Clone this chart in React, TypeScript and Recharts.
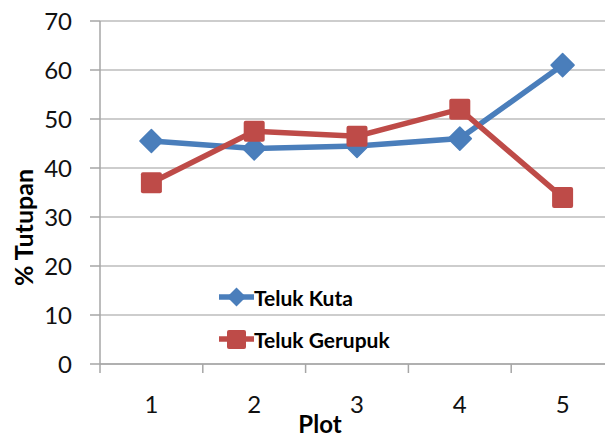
import React from 'react';
import { LineChart, Line, XAxis, YAxis, CartesianGrid, Legend } from 'recharts';

const plots = [1, 2, 3, 4, 5];
const telukKuta = [45.5, 44, 44.5, 46, 61];
const telukGerupuk = [37, 47.5, 46.5, 52, 34];
const yTicks = [0, 10, 20, 30, 40, 50, 60, 70];
const xTicks = [0.5, 1, 1.5, 2, 2.5, 3, 3.5, 4, 4.5, 5, 5.5];
const seriesNames = ['Teluk Kuta', 'Teluk Gerupuk'];

const BLUE = '#4A7EBB';
const RED = '#BE4B48';
const GRID = '#BDBDBD';
const AXIS = '#A6A6A6';

const data = plots.map((p, i) => ({ plot: p, kuta: telukKuta[i], gerupuk: telukGerupuk[i] }));

const Diamond = (props: any) => {
  const { cx, cy, index } = props;
  if (cx == null || cy == null) return <g key={index} />;
  const r = 11.5;
  return (
    <polygon
      key={index}
      points={`${cx},${cy - r} ${cx + r},${cy} ${cx},${cy + r} ${cx - r},${cy}`}
      fill={BLUE}
      stroke={BLUE}
      strokeWidth={1.5}
      strokeLinejoin="round"
    />
  );
};

const Square = (props: any) => {
  const { cx, cy, index } = props;
  if (cx == null || cy == null) return <g key={index} />;
  const h = 10.5;
  return <rect key={index} x={cx - h} y={cy - h} width={2 * h} height={2 * h} rx={2} fill={RED} />;
};

const XTick = (props: any) => {
  const { x, y, payload } = props;
  const v = payload.value;
  if (Number.isInteger(v)) {
    return (
      <text x={x} y={y + 49} textAnchor="middle" fontSize={24} fill="#111">
        {v}
      </text>
    );
  }
  return <line x1={x} x2={x} y1={y} y2={y + 9} stroke={AXIS} strokeWidth={1.5} />;
};

const YTitle = (props: any) => {
  const vb = props.viewBox || { x: 0, y: 0, width: 0, height: 0 };
  const cx = vb.x + 23;
  const cy = vb.y + vb.height / 2 + 35;
  return (
    <text
      x={cx}
      y={cy}
      transform={`rotate(-90, ${cx}, ${cy})`}
      textAnchor="middle"
      dominantBaseline="central"
      fontSize={25}
      fontWeight={700}
      fill="#000"
    >
      % Tutupan
    </text>
  );
};

const XTitle = (props: any) => {
  const vb = props.viewBox || { x: 0, y: 0, width: 0, height: 0 };
  return (
    <text x={vb.x + 220} y={vb.y + 69} textAnchor="middle" fontSize={24} fontWeight={700} fill="#000">
      Plot
    </text>
  );
};

const LegendContent = () => {
  const colors = [BLUE, RED];
  return (
    <div style={{ display: 'flex', flexDirection: 'column' }}>
      {seriesNames.map((name, i) => (
        <div key={name} style={{ display: 'flex', alignItems: 'center', height: 42 }}>
          <svg width={35} height={24} style={{ display: 'block' }}>
            <line x1={0} x2={35} y1={12} y2={12} stroke={colors[i]} strokeWidth={5.5} />
            {i === 0 ? (
              <polygon points="17.5,2.5 27,12 17.5,21.5 8,12" fill={colors[i]} />
            ) : (
              <rect x={8} y={3} width={19} height={19} rx={2} fill={colors[i]} />
            )}
          </svg>
          <span style={{ fontWeight: 700, fontSize: 21, color: '#000', whiteSpace: 'nowrap' }}>{name}</span>
        </div>
      ))}
    </div>
  );
};

export default function App() {
  return (
    <div
      style={{
        position: 'absolute',
        left: 0,
        top: 0,
        width: 605,
        height: 438,
        overflow: 'hidden',
        background: '#fff',
        fontFamily: 'Lato, "Open Sans", sans-serif',
      }}
    >
      <LineChart width={620} height={438} data={data} margin={{ top: 21, right: 6, bottom: 0, left: 0 }}>
        <CartesianGrid vertical={false} stroke={GRID} strokeWidth={1.5} />
        <XAxis
          dataKey="plot"
          type="number"
          domain={[0.5, 5.5]}
          ticks={xTicks}
          interval={0}
          height={74}
          tickLine={false}
          tickSize={0}
          tickMargin={0}
          tick={<XTick />}
          axisLine={{ stroke: AXIS, strokeWidth: 1.5 }}
          label={<XTitle />}
        />
        <YAxis
          domain={[0, 70]}
          ticks={yTicks}
          interval={0}
          width={100}
          tickSize={10}
          tickMargin={18}
          tick={{ fontSize: 24, fill: '#111' }}
          tickLine={{ stroke: AXIS, strokeWidth: 1.5 }}
          axisLine={{ stroke: AXIS, strokeWidth: 1.5 }}
          label={<YTitle />}
        />
        <Legend
          layout="vertical"
          align="center"
          verticalAlign="middle"
          content={<LegendContent />}
          wrapperStyle={{ left: 219, top: 276, width: 'auto', height: 'auto' }}
        />
        <Line
          type="linear"
          dataKey="kuta"
          name={seriesNames[0]}
          stroke={BLUE}
          strokeWidth={5.5}
          dot={Diamond}
          activeDot={false}
          isAnimationActive={false}
        />
        <Line
          type="linear"
          dataKey="gerupuk"
          name={seriesNames[1]}
          stroke={RED}
          strokeWidth={5.5}
          dot={Square}
          activeDot={false}
          isAnimationActive={false}
        />
      </LineChart>
    </div>
  );
}
